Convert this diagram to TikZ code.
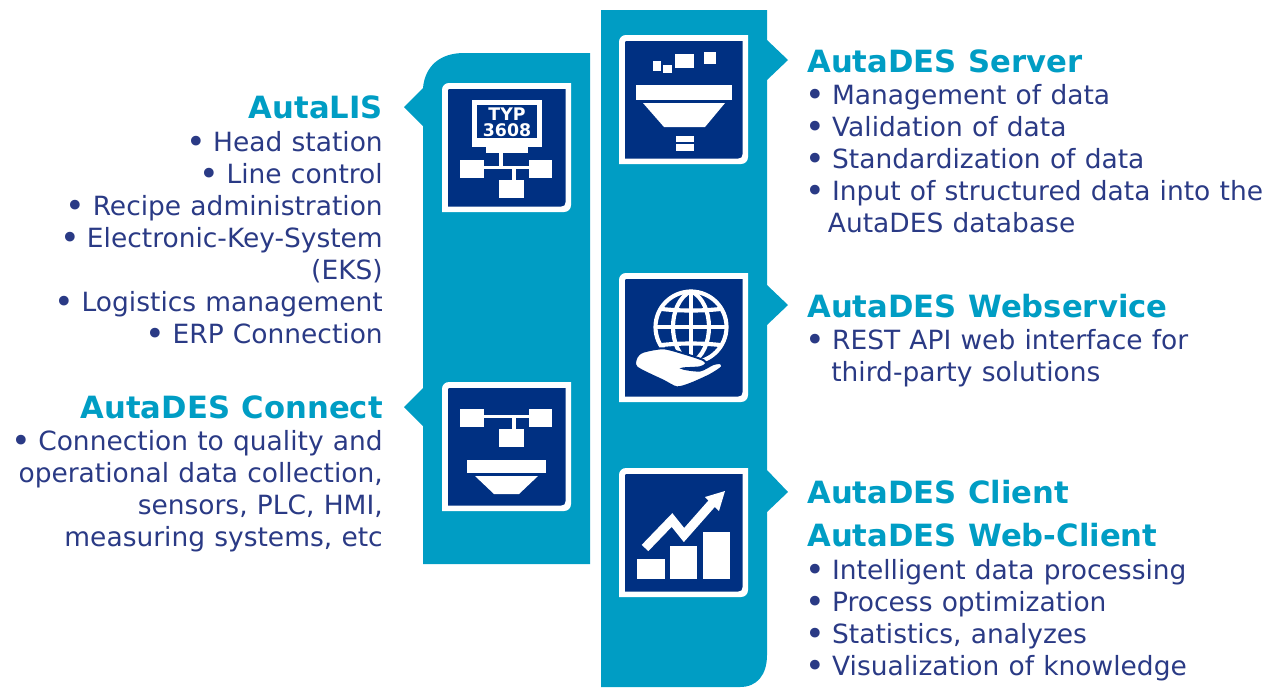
\documentclass[tikz,border=0pt]{standalone}
\usepackage{fontspec}
\setmainfont[WordSpace=1.1]{DejaVu Sans}
\definecolor{band}{HTML}{009DC4}
\definecolor{navy}{HTML}{003082}
\definecolor{ink}{HTML}{2A3A85}
\newcommand{\bu}{\makebox[11.7pt][c]{\raisebox{-0.09em}{\fontsize{25pt}{24pt}\selectfont •}}\ }
\tikzset{
  bandshape/.style={fill=band,draw=none},
  whitepart/.style={fill=white,draw=none},
  wire/.style={draw=white,line width=2.3pt},
  head/.style={text=band,font=\fontsize{23pt}{24pt}\selectfont\bfseries,inner sep=0pt},
  lst/.style={text=ink,font=\fontsize{19.85pt}{24pt}\selectfont,inner sep=0pt},
  icontile/.pic={
    \path[fill=white] (7,0) -- (129,0) -- (129,122) .. controls (129,126) and (126,129) .. (122,129) -- (0,129) -- (0,7) .. controls (0,3) and (3,0) .. (7,0) -- cycle;
    \path[fill=navy] (7,6) -- (123.5,6) -- (123.5,119) .. controls (123.5,122) and (122,123.5) .. (119,123.5) -- (6,123.5) -- (6,7) -- cycle;
  }
}
\newcommand{\treeicon}[1]{%
  \path[whitepart] (18,#1) rectangle (42,#1+18);
  \path[whitepart] (87,#1) rectangle (110,#1+18);
  \path[whitepart] (57,#1+20) rectangle (82,#1+38);
  \draw[wire] (42,#1+7.5) -- (87,#1+7.5);
  \draw[wire] (72,#1+7.5) -- (72,#1+20);
}
\begin{document}
\begin{tikzpicture}[x=0.75pt,y=-0.75pt]
\useasboundingbox (0,0) rectangle (1275,687);
% bands
\path[bandshape] (423,88) .. controls (425,66) and (440,53) .. (464,53) -- (590,53) -- (590,564) -- (423,564)
  -- (423,426) -- (404,407) -- (423,388) -- (423,126) -- (404,107) -- cycle;
\path[bandshape] (601,10) -- (767,10) -- (767,40) -- (788,60) -- (767,80) -- (767,285) -- (788,305) -- (767,325)
  -- (767,470) -- (788,492) -- (767,512) -- (767,655) .. controls (767,675) and (757,687) .. (740,687) -- (601,687) -- cycle;
% AutaLIS icon
\begin{scope}[shift={(442,83)}]
  \pic {icontile};
  \path[whitepart] (30,17) rectangle (100,64);
  \path[fill=navy] (35,22) rectangle (95,55);
  \path[whitepart] (44,64) rectangle (86,70);
  \draw[wire] (59,70) -- (59,85);
  \treeicon{77}
  \node (typ) [text=white,font=\fontsize{13pt}{12pt}\selectfont\bfseries,align=center,inner sep=0pt] at (65,39) {TYP\\3608};
\end{scope}
% Connect icon
\begin{scope}[shift={(442,382)}]
  \pic {icontile};
  \treeicon{27}
  \path[whitepart] (25,78) rectangle (104,91);
  \path[whitepart] (33,94) -- (96,94) -- (77,112) -- (52,112) -- cycle;
\end{scope}
% Server icon
\begin{scope}[shift={(619,35)}]
  \pic {icontile};
  \path[whitepart] (34,26) rectangle (42,36);
  \path[whitepart] (44,30) rectangle (53,38);
  \path[whitepart] (56,19) rectangle (75,33);
  \path[whitepart] (85,17) rectangle (97,29);
  \path[whitepart] (17,50) rectangle (113,65);
  \path[whitepart] (24,68) -- (106,68) -- (86,92) -- (45,92) -- cycle;
  \path[whitepart] (57,101) rectangle (75,107);
  \path[whitepart] (57,109) rectangle (75,116);
\end{scope}
% Webservice icon
\begin{scope}[shift={(619,273)}]
  \pic {icontile};
  \begin{scope}[draw=white,line width=3.1pt]
    \draw (72,54) circle [radius=35.5];
    \draw (72,18) -- (72,90);
    \draw (72,18) .. controls (48,30) and (48,78) .. (72,90);
    \draw (72,18) .. controls (96,30) and (96,78) .. (72,90);
    \draw (36.5,54) -- (107.5,54);
    \draw (43,36) .. controls (60,38) and (84,38) .. (101,36);
    \draw (43,72) .. controls (60,70) and (84,70) .. (101,72);
  \end{scope}
  \path[fill=white,draw=navy,line width=1.5pt] plot[smooth cycle,tension=0.45] coordinates {
    (17.7,84) (24.3,78.7) (44.3,75.3) (64.3,80.3) (84.3,87) (87,91) (81,94.3) (64,95.5) (81,97.5)
    (94.3,91) (101.7,90.3) (102.7,94.3) (91,102) (71,111) (57.7,114.3) (44.3,107.7) (17.7,94.3)};
\end{scope}
% Client icon
\begin{scope}[shift={(619,468)}]
  \pic {icontile};
  \path[whitepart] (18,91) rectangle (46,111);
  \path[whitepart] (51,78) rectangle (78,111);
  \path[whitepart] (84,64) rectangle (111,111);
  \draw[white,line width=6.8pt] (26,80) -- (53,52) -- (65,67) -- (95,33);
  \path[whitepart] (106,23) -- (86,29) -- (100,43) -- cycle;
\end{scope}
% Left texts
\node (lis) [head,anchor=base east] at (383,118.5) {AutaLIS};
\node (lislist) [lst,anchor=north east,align=right] at (383,131) {\bu Head station\\\bu Line control\\\bu Recipe administration\\\bu Electronic-Key-System\\(EKS)\\\bu Logistics management\\\bu ERP Connection};
\node (con) [head,anchor=base east] at (383,418) {AutaDES Connect};
\node (conlist) [lst,anchor=north east,align=right] at (383,430) {\bu Connection to quality and\\operational data collection,\\sensors, PLC, HMI,\\measuring systems, etc};
% Right texts
\node (srv) [head,anchor=base west] at (807,72) {AutaDES Server};
\node (srvlist) [lst,anchor=north west,align=left] at (807,84) {\bu Management of data\\\bu Validation of data\\\bu Standardization of data\\\bu Input of structured data into the\\\hspace*{15.5pt}AutaDES database};
\node (web) [head,anchor=base west] at (807,317) {AutaDES Webservice};
\node (weblist) [lst,anchor=north west,align=left] at (807,329) {\bu REST API web interface for\\\hspace*{18pt}third-party solutions};
\node (cli) [head,anchor=base west] at (807,503) {AutaDES Client};
\node (wcl) [head,anchor=base west] at (807,546) {AutaDES Web-Client};
\node (clilist) [lst,anchor=north west,align=left] at (807,559) {\bu Intelligent data processing\\\bu Process optimization\\\bu Statistics, analyzes\\\bu Visualization of knowledge};
\end{tikzpicture}
\end{document}
